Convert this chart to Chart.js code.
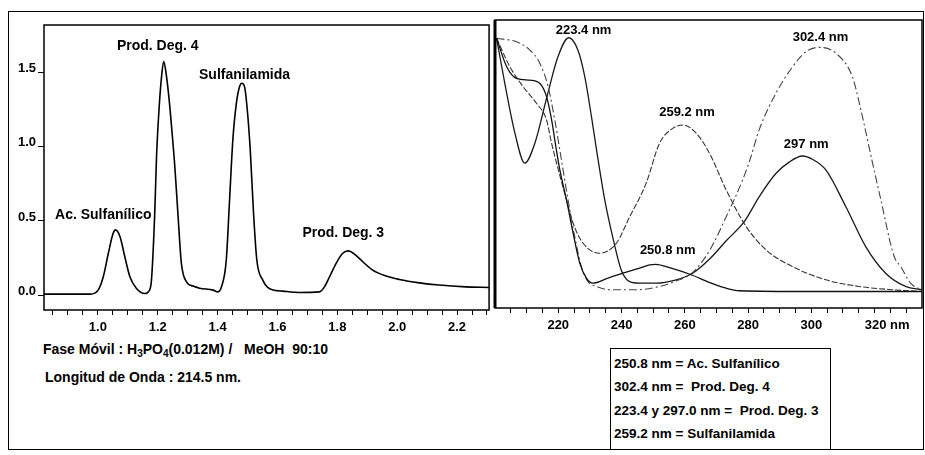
<!DOCTYPE html>
<html>
<head>
<meta charset="utf-8">
<script src="https://cdn.jsdelivr.net/npm/chart.js@4.4.1/dist/chart.umd.min.js"></script>
<style>
  body { margin:0; background:#fff; width:925px; height:455px; overflow:hidden; position:relative;
         font-family:"Liberation Sans", Arial, sans-serif; font-weight:bold; color:#000; }
  #marco { position:absolute; left:8px; top:11px; width:916px; height:439px; border:1px solid #000; box-sizing:border-box; }
  canvas { position:absolute; top:0; }
  #izq { left:0; }
  #der { left:492px; }
  .nota { position:absolute; font-size:14px; white-space:pre; line-height:16px; }
  .nota sub { font-size:10px; vertical-align:-3px; line-height:0; }
  #leyenda { position:absolute; left:610px; top:348px; width:221px; height:102px; border:1px solid #000;
             box-sizing:border-box; font-size:13.5px; padding:3px 0 0 3px; background:#fff; }
  #leyenda div { line-height:23.4px; white-space:pre; }
</style>
</head>
<body>
<div id="marco"></div>
<canvas id="izq" width="492" height="340"></canvas>
<canvas id="der" width="433" height="340"></canvas>
<div class="nota" style="left:43px; top:341px;">Fase Móvil : H<sub>3</sub>PO<sub>4</sub>(0.012M) /   MeOH  90:10</div>
<div class="nota" style="left:45px; top:369px;">Longitud de Onda : 214.5 nm.</div>
<div id="leyenda">
  <div>250.8 nm = Ac. Sulfanílico</div>
  <div>302.4 nm =  Prod. Deg. 4</div>
  <div>223.4 y 297.0 nm =  Prod. Deg. 3</div>
  <div>259.2 nm = Sulfanilamida</div>
</div>
<script>
// cromatograma (tiempo, absorbancia)
const cromX = [0.82, 0.974, 1.001, 1.018, 1.035, 1.051, 1.059, 1.074, 1.090, 1.107, 1.129, 1.157, 1.171, 1.179, 1.190, 1.196,
  1.205, 1.213, 1.220, 1.229, 1.238, 1.246, 1.257, 1.268, 1.279, 1.296, 1.318, 1.340, 1.385, 1.401, 1.413, 1.429, 1.440,
  1.451, 1.463, 1.474, 1.481, 1.490, 1.498, 1.509, 1.520, 1.531, 1.551, 1.574, 1.618, 1.674, 1.740, 1.757, 1.774, 1.796,
  1.818, 1.837, 1.857, 1.885, 1.918, 1.963, 2.007, 2.074, 2.140, 2.229, 2.307];
const cromY = [0.007, 0.007, 0.034, 0.124, 0.282, 0.417, 0.440, 0.394, 0.259, 0.124, 0.045, 0.011, 0.029, 0.101, 0.553, 0.936,
  1.274, 1.477, 1.574, 1.477, 1.319, 1.139, 0.868, 0.530, 0.214, 0.090, 0.061, 0.047, 0.034, 0.022, 0.056, 0.237, 0.643,
  1.049, 1.297, 1.409, 1.428, 1.405, 1.274, 0.981, 0.553, 0.237, 0.101, 0.043, 0.027, 0.018, 0.022, 0.056, 0.124, 0.214,
  0.282, 0.298, 0.277, 0.225, 0.169, 0.129, 0.106, 0.083, 0.068, 0.056, 0.052];
const cromNombres = ["Prod. Deg. 4", "Sulfanilamida", "Ac. Sulfanílico", "Prod. Deg. 3"];
const cromNombreX = [1.20, 1.49, 1.018, 1.82];
const cromNombreY = [1.68, 1.483, 0.536, 0.419];
const cromEtiquetasX = [1.0, 1.2, 1.4, 1.6, 1.8, 2.0, 2.2];
const cromEtiquetasY = [0.0, 0.5, 1.0, 1.5];

// espectros (nm, absorbancia relativa)
const acSulfNm = [200.5, 203.7, 206.8, 211.0, 214.2, 216.3, 217.9, 219.4, 220.5, 222.6, 224.7, 226.8, 228.9, 231.0, 235.5,
  240.4, 245.7, 248.9, 250.8, 255.7, 262.0, 268.0, 273.1, 277.3, 300.0, 335.0];
const acSulfAbs = [0.998, 0.886, 0.840, 0.833, 0.820, 0.768, 0.676, 0.558, 0.479, 0.361, 0.230, 0.112, 0.053, 0.033, 0.052,
  0.072, 0.092, 0.105, 0.107, 0.092, 0.066, 0.035, 0.013, 0.003, 0.0, 0.0];

const deg4Nm = [200.5, 206.8, 211.0, 214.2, 216.8, 218.9, 221.0, 223.1, 225.2, 227.3, 229.4, 232.1, 236.2, 245.0, 252.0,
  257.0, 262.5, 268.0, 273.1, 278.3, 280.6, 283.6, 288.8, 294.1, 298.3, 302.5, 307.8, 313.0, 315.6, 319.3, 322.0, 326.2,
  328.3, 331.4, 335.0];
const deg4Abs = [0.998, 0.984, 0.952, 0.899, 0.807, 0.676, 0.519, 0.361, 0.217, 0.098, 0.039, 0.020, 0.007, 0.007, 0.020,
  0.040, 0.075, 0.165, 0.295, 0.440, 0.519, 0.640, 0.781, 0.886, 0.945, 0.962, 0.939, 0.846, 0.720, 0.510, 0.361, 0.138,
  0.098, 0.033, 0.005];

const deg3Nm = [200.5, 203.1, 206.3, 209.4, 212.6, 216.3, 219.9, 223.3, 226.2, 228.4, 230.5, 232.1, 234.7, 237.3, 239.9,
  242.6, 245.7, 251.0, 257.0, 262.5, 268.0, 273.1, 278.8, 283.6, 288.8, 293.0, 297.2, 300.5, 304.6, 310.9, 317.2, 323.5,
  329.8, 335.0];
const deg3Abs = [0.998, 0.820, 0.624, 0.506, 0.584, 0.761, 0.925, 1.000, 0.952, 0.846, 0.689, 0.558, 0.361, 0.210, 0.085,
  0.039, 0.033, 0.033, 0.045, 0.072, 0.130, 0.200, 0.275, 0.375, 0.465, 0.510, 0.534, 0.520, 0.479, 0.335, 0.177, 0.072,
  0.020, 0.007];

const sulfaNm = [200.5, 204.7, 208.9, 213.1, 216.3, 217.9, 222.6, 224.7, 227.8, 233.1, 238.4, 242.6, 247.8, 252.0, 256.2,
  259.4, 263.6, 267.8, 273.1, 279.4, 285.7, 294.1, 304.6, 315.1, 325.6, 335.0];
const sulfaAbs = [0.998, 0.886, 0.807, 0.742, 0.676, 0.584, 0.361, 0.269, 0.191, 0.151, 0.191, 0.295, 0.427, 0.584, 0.643,
  0.656, 0.624, 0.545, 0.400, 0.256, 0.164, 0.098, 0.046, 0.020, 0.007, 0.0];

const picoTextos = ["223.4 nm", "302.4 nm", "259.2 nm", "297 nm", "250.8 nm"];
const picoX = [228.0, 302.9, 260.7, 298.4, 254.6];
const picoY = [1.027, 1.001, 0.706, 0.581, 0.161];
const espEtiquetasX = [220, 240, 260, 280, 300, 320];

const fuente = '"Liberation Sans", Arial, sans-serif';
const zip = (xs, ys) => xs.map((x, i) => ({ x: x, y: ys[i] }));

// caja del area de trazado
const marcoPlugin = {
  id: 'marco',
  afterDraw(chart, args, opts) {
    const { ctx, chartArea: a } = chart;
    ctx.save();
    ctx.strokeStyle = '#000';
    ctx.lineWidth = opts.ancho;
    ctx.strokeRect(a.left, a.top, a.right - a.left, a.bottom - a.top);
    if (opts.izq) {
      ctx.lineWidth = opts.izq;
      ctx.beginPath();
      ctx.moveTo(a.left, a.top);
      ctx.lineTo(a.left, a.bottom);
      ctx.stroke();
    }
    ctx.restore();
  }
};

// rotulos de los picos, colocados con las escalas
const textosPlugin = {
  id: 'textos',
  afterDatasetsDraw(chart, args, opts) {
    const { ctx, scales: { x, y } } = chart;
    ctx.save();
    ctx.fillStyle = '#000';
    ctx.font = opts.font;
    ctx.textAlign = 'center';
    ctx.textBaseline = 'middle';
    opts.textos.forEach((t, i) => ctx.fillText(t, x.getPixelForValue(opts.xs[i]), y.getPixelForValue(opts.ys[i])));
    ctx.restore();
  }
};

const cerca = (a, b) => Math.abs(a - b) < 1e-6;

new Chart(document.getElementById('izq'), {
  type: 'line',
  data: {
    datasets: [{
      data: zip(cromX, cromY),
      borderColor: '#000', borderWidth: 1.6, pointRadius: 0, fill: false,
      cubicInterpolationMode: 'monotone'
    }]
  },
  options: {
    responsive: false, animation: false,
    layout: { padding: { top: 25, right: 2, left: 0, bottom: 0 } },
    plugins: {
      legend: { display: false }, tooltip: { enabled: false },
      marco: { ancho: 1.5 },
      textos: { font: 'bold 14px ' + fuente, textos: cromNombres, xs: cromNombreX, ys: cromNombreY }
    },
    scales: {
      x: {
        type: 'linear', min: 0.82, max: 2.307,
        afterBuildTicks: s => {
          const t = [];
          for (let i = 17; i <= 46; i++) t.push({ value: i * 0.05 });
          s.ticks = t;
        },
        ticks: {
          autoSkip: false, maxRotation: 0, padding: 5, color: '#000',
          font: { family: fuente, size: 13, weight: 'bold' },
          callback: v => cromEtiquetasX.some(e => cerca(e, v)) ? v.toFixed(1) : ''
        },
        grid: { drawOnChartArea: false, tickLength: 5, tickColor: '#000', tickWidth: 1 },
        border: { display: false },
        afterFit: s => { s.height = 30; }
      },
      y: {
        min: -0.1, max: 1.82,
        afterBuildTicks: s => { s.ticks = cromEtiquetasY.map(v => ({ value: v })); },
        ticks: {
          padding: 2, color: '#000', labelOffset: -4,
          font: { family: fuente, size: 13, weight: 'bold' },
          callback: v => v.toFixed(1)
        },
        grid: { drawOnChartArea: false, tickLength: 6, tickColor: '#000' },
        border: { display: false },
        afterFit: s => { s.width = 44; }
      }
    }
  },
  plugins: [marcoPlugin, textosPlugin]
});

new Chart(document.getElementById('der'), {
  type: 'line',
  data: {
    datasets: [
      { label: 'Ac. Sulfanílico', data: zip(acSulfNm, acSulfAbs), borderColor: '#111', borderWidth: 1.3 },
      { label: 'Prod. Deg. 4', data: zip(deg4Nm, deg4Abs), borderColor: '#444', borderWidth: 1.1, borderDash: [8, 3, 2, 3] },
      { label: 'Prod. Deg. 3', data: zip(deg3Nm, deg3Abs), borderColor: '#1a1a1a', borderWidth: 1.3 },
      { label: 'Sulfanilamida', data: zip(sulfaNm, sulfaAbs), borderColor: '#333', borderWidth: 1.1, borderDash: [6, 2] }
    ].map(d => Object.assign(d, { pointRadius: 0, fill: false, cubicInterpolationMode: 'monotone' }))
  },
  options: {
    responsive: false, animation: false,
    layout: { padding: { top: 20, right: 3, left: 3, bottom: 0 } },
    plugins: {
      legend: { display: false }, tooltip: { enabled: false },
      marco: { ancho: 1.5, izq: 3 },
      textos: { font: 'bold 13px ' + fuente, textos: picoTextos, xs: picoX, ys: picoY }
    },
    scales: {
      x: {
        type: 'linear', min: 200, max: 335,
        afterBuildTicks: s => {
          const t = [];
          for (let v = 205; v <= 330; v += 5) t.push({ value: v });
          s.ticks = t;
        },
        ticks: {
          autoSkip: false, maxRotation: 0, padding: 5, color: '#000',
          font: { family: fuente, size: 13, weight: 'bold' },
          callback: v => espEtiquetasX.includes(v) ? (v === 320 ? '       320 nm' : String(v)) : ''
        },
        grid: { drawOnChartArea: false, tickLength: 5, tickColor: '#000' },
        border: { display: false },
        afterFit: s => { s.height = 32; }
      },
      y: { display: false, min: -0.065, max: 1.07 }
    }
  },
  plugins: [marcoPlugin, textosPlugin]
});
</script>
</body>
</html>
